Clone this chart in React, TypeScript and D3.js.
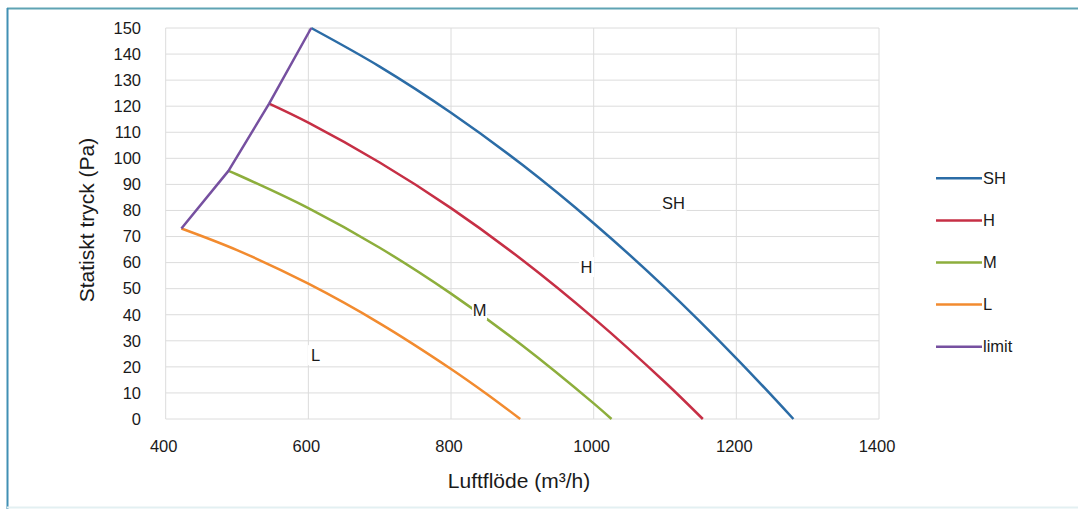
import React from "react";
import * as d3 from "d3";

const W = 1078;
const H = 509;

const xTicks = [400, 600, 800, 1000, 1200, 1400];
const yTicks = [0, 10, 20, 30, 40, 50, 60, 70, 80, 90, 100, 110, 120, 130, 140, 150];

const shFlow = [604, 700, 800, 900, 1000, 1100, 1200, 1280];
const shPress = [150, 135.2, 117.5, 97.5, 75.1, 50.4, 23.3, 0];

const hFlow = [545, 600, 700, 800, 900, 1000, 1100, 1153];
const hPress = [121, 113.7, 98.4, 80.9, 61.0, 38.7, 14.1, 0];

const mFlow = [488, 500, 600, 700, 800, 900, 1000, 1025];
const mPress = [95.2, 93.8, 80.9, 65.7, 48.1, 28.2, 6.0, 0];

const lFlow = [422, 500, 600, 700, 800, 850, 897];
const lPress = [73.1, 64.8, 51.9, 36.7, 19.2, 9.6, 0];

const limitFlow = [422, 488, 545, 604];
const limitPress = [73.1, 95.2, 121, 150];

const seriesNames = ["SH", "H", "M", "L", "limit"];
const seriesColors = ["#2b6ca6", "#c62f45", "#8dae3c", "#f28b2f", "#7650a0"];

const labelNames = ["SH", "H", "M", "L"];
const labelFlow = [1112, 990, 840, 610];
const labelPress = [82.9, 58.3, 41.6, 24.5];

const zip = (xs: number[], ys: number[]) => xs.map((x, i) => [x, ys[i]] as [number, number]);

export default function App() {
  const left = 165.7;
  const right = 879;
  const top = 28;
  const bottom = 419;
  const x = d3.scaleLinear().domain([400, 1400]).range([left, right]);
  const y = d3.scaleLinear().domain([0, 150]).range([bottom, top]);
  const line = d3
    .line<[number, number]>()
    .x((d) => x(d[0]))
    .y((d) => y(d[1]))
    .curve(d3.curveCatmullRom.alpha(0.5));
  const straight = d3
    .line<[number, number]>()
    .x((d) => x(d[0]))
    .y((d) => y(d[1]));

  const series = [
    zip(shFlow, shPress),
    zip(hFlow, hPress),
    zip(mFlow, mPress),
    zip(lFlow, lPress),
    zip(limitFlow, limitPress),
  ];

  const font = "'Liberation Sans', Arial, sans-serif";

  return (
    <svg
      width={W}
      height={H}
      style={{ position: "absolute", left: 0, top: 0, background: "#fff" }}
      fontFamily={font}
    >
      <rect x={0} y={0} width={W} height={H} fill="#fff" />
      {/* frame */}
      <line x1={7} x2={W} y1={8.5} y2={8.5} stroke="#5fa3b3" strokeWidth={2} />
      <line x1={7.5} x2={7.5} y1={8} y2={H} stroke="#4190b4" strokeWidth={2} />
      <line x1={7} x2={W} y1={507.5} y2={507.5} stroke="#e3f0f2" strokeWidth={2} />

      {/* grid */}
      {yTicks.map((t) => (
        <line key={"gy" + t} x1={left} x2={right} y1={y(t)} y2={y(t)} stroke="#dcdcdc" strokeWidth={1} />
      ))}
      {xTicks.map((t) => (
        <line key={"gx" + t} x1={x(t)} x2={x(t)} y1={top} y2={bottom} stroke="#dcdcdc" strokeWidth={1} />
      ))}

      {/* tick labels */}
      {yTicks.map((t) => (
        <text key={"ty" + t} x={141} y={y(t)} dy="0.35em" textAnchor="end" fontSize={16.5} fill="#1a1a1a">
          {t}
        </text>
      ))}
      {xTicks.map((t) => (
        <text key={"tx" + t} x={x(t) - 2} y={446} dy="0.35em" textAnchor="middle" fontSize={16.5} fill="#1a1a1a">
          {t}
        </text>
      ))}

      {/* axis titles */}
      <text
        transform={`translate(94,${220}) rotate(-90)`}
        textAnchor="middle"
        fontSize={21}
        fill="#1a1a1a"
      >
        Statiskt tryck (Pa)
      </text>
      <text x={519} y={488} textAnchor="middle" fontSize={21} fill="#1a1a1a">
        Luftflöde (m³/h)
      </text>

      {/* series */}
      {series.map((s, i) => (
        <path
          key={"s" + i}
          d={(i === 4 ? straight(s) : line(s)) || ""}
          fill="none"
          stroke={seriesColors[i]}
          strokeWidth={2.5}
          strokeLinejoin="round"
        />
      ))}

      {/* inline labels */}
      {labelNames.map((n, i) => {
        const cx = x(labelFlow[i]);
        const cy = y(labelPress[i]);
        const w = n.length * 11 + 4;
        return (
          <g key={"lb" + n}>
            <rect x={cx - w / 2} y={cy - 10} width={w} height={20} fill="#fff" />
            <text x={cx} y={cy} dy="0.35em" textAnchor="middle" fontSize={16.5} fill="#1a1a1a">
              {n}
            </text>
          </g>
        );
      })}

      {/* legend */}
      {seriesNames.map((n, i) => {
        const ly = 178.3 + i * 42.1;
        return (
          <g key={"lg" + n}>
            <line x1={936} x2={982} y1={ly} y2={ly} stroke={seriesColors[i]} strokeWidth={2.5} />
            <text x={983} y={ly} dy="0.35em" fontSize={16.5} fill="#1a1a1a">
              {n}
            </text>
          </g>
        );
      })}
    </svg>
  );
}
